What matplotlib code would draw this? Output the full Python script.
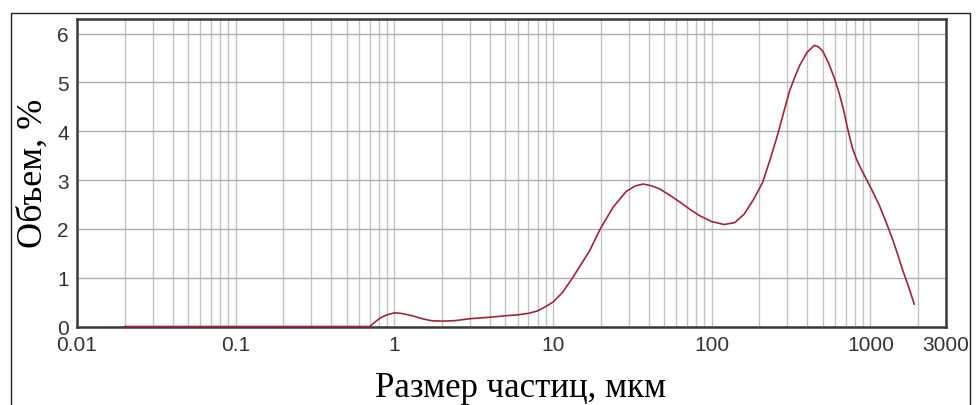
import matplotlib
matplotlib.use("Agg")
import matplotlib.pyplot as plt
from matplotlib.patches import Rectangle

# particle size distribution (laser diffraction), volume %
size_um = [0.02, 0.70, 0.76, 0.82, 0.90, 1.0, 1.1, 1.3, 1.5, 1.7, 2.0, 2.4, 3.0, 4.0,
           5.0, 6.0, 7.0, 8.0, 9.0, 10, 11.5, 13.3, 15, 17, 20, 24, 29, 33, 37, 42,
           47, 55, 63, 73, 84, 100, 120, 140, 160, 185, 210, 235, 260, 285, 310,
           335, 360, 400, 444, 470, 500, 545, 595, 640, 680, 720, 770, 820, 880, 944,
           1040, 1140, 1260, 1380, 1490, 1590, 1740, 1890]
volume_pct = [0, 0, 0.10, 0.18, 0.24, 0.28, 0.27, 0.22, 0.16, 0.12, 0.11, 0.12, 0.16,
              0.19, 0.22, 0.24, 0.27, 0.32, 0.41, 0.50, 0.70, 1.00, 1.27, 1.55, 2.02,
              2.45, 2.77, 2.88, 2.92, 2.88, 2.82, 2.68, 2.55, 2.40, 2.27, 2.15, 2.09,
              2.13, 2.30, 2.62, 2.96, 3.45, 3.92, 4.40, 4.83, 5.12, 5.36, 5.62, 5.76,
              5.73, 5.65, 5.40, 5.08, 4.75, 4.42, 4.05, 3.66, 3.42, 3.21, 3.02, 2.75,
              2.48, 2.13, 1.79, 1.47, 1.18, 0.82, 0.46]

x_ticks = [0.01, 0.1, 1, 10, 100, 1000, 3000]
x_tick_labels = ["0.01", "0.1", "1", "10", "100", "1000", "3000"]
y_ticks = [0, 1, 2, 3, 4, 5, 6]

tick_font = ["Liberation Sans Narrow", "Liberation Sans", "DejaVu Sans"]
label_font = ["Liberation Serif", "DejaVu Serif"]

fig = plt.figure(figsize=(9.76, 4.06), dpi=100)
ax = fig.add_axes([0.0789, 0.1933, 0.8904, 0.7574])

ax.plot(size_um, volume_pct, color="#a3243a", linewidth=1.2, zorder=5, clip_on=False)

ax.set_xscale("log")
ax.set_xlim(0.01, 3000)
ax.set_ylim(0, 6.3)

ax.set_xticks(x_ticks)
ax.set_xticklabels(x_tick_labels, family=tick_font, fontsize=15, color="#333333")
ax.set_yticks(y_ticks)
ax.set_yticklabels([str(v) for v in y_ticks], family=tick_font, fontsize=15, color="#333333")
ax.tick_params(which="both", length=0, pad=6)

ax.grid(True, which="major", axis="y", color="#b0b0b0", linewidth=1.0)
ax.grid(True, which="both", axis="x", color="#c4c4c4", linewidth=1.0)
ax.set_axisbelow(True)

for side in ax.spines.values():
    side.set_color("#3a3a3a")
    side.set_linewidth(1.8)

ax.set_xlabel("Размер частиц, мкм", family=label_font, fontsize=25)
ax.xaxis.set_label_coords(0.51, -0.145, transform=ax.transAxes)
ax.xaxis.label.set_va("top")
ax.set_ylabel("Объем, %", family=label_font, fontsize=26, labelpad=5)

# thin outer border around the whole chart
fig.patches.append(Rectangle((0.0108, -0.05), 0.9831, 1.0167, transform=fig.transFigure,
                             fill=False, edgecolor="#222222", linewidth=1.0))

plt.savefig("out.png", dpi=100)
